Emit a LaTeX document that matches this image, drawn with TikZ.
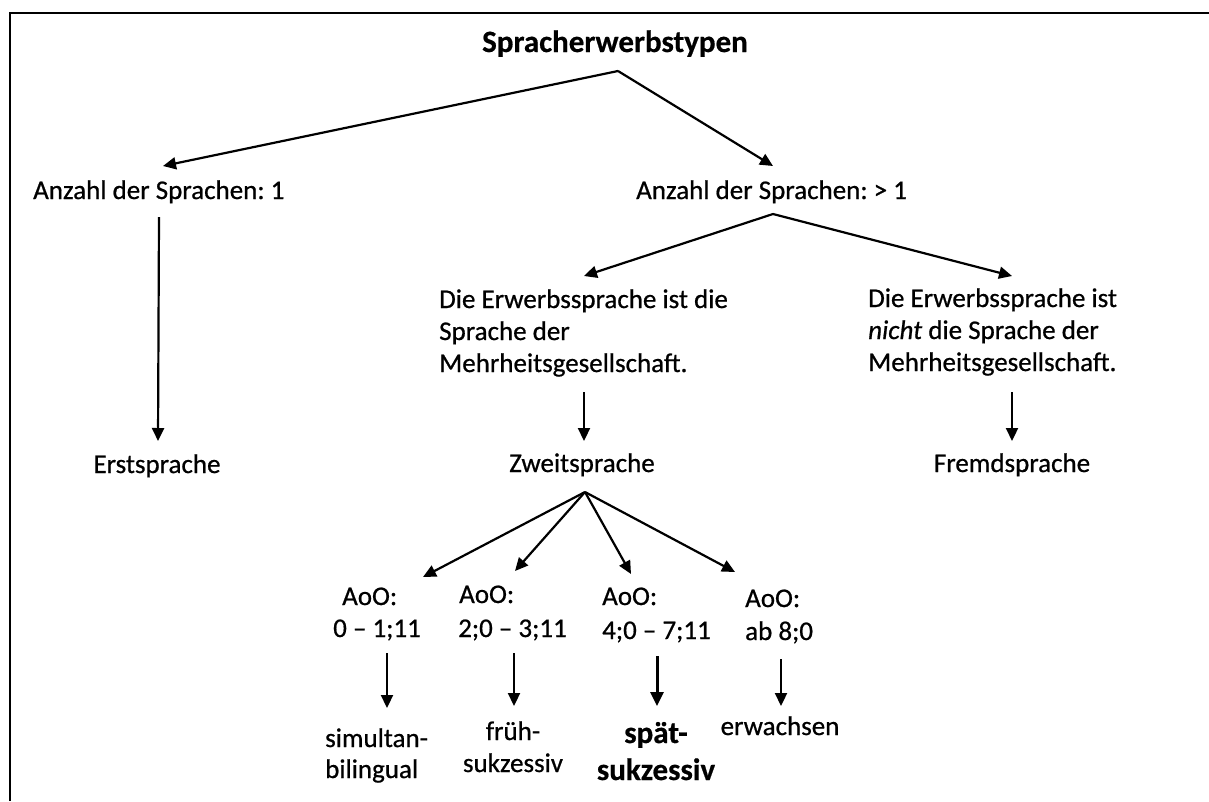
\documentclass[tikz,border=0pt]{standalone}
\usepackage{fontspec}
\setmainfont{Carlito}[UprightFeatures={FakeBold=0.7},ItalicFeatures={FakeBold=0.7},BoldFeatures={FakeBold=0.5}]
\usetikzlibrary{arrows.meta}
\frenchspacing
\begin{document}
\begin{tikzpicture}[x=1pt,y=-1pt,
  txt/.style={inner sep=0pt,font=\fontsize{27}{32}\selectfont},
  ttl/.style={inner sep=0pt,font=\fontsize{31}{37}\selectfont\bfseries},
  arr/.style={line width=2.2pt,-{Triangle[length=13pt,width=12pt]}},
  boldarr/.style={line width=3pt,-{Triangle[length=14pt,width=13pt]}},
  frameline/.style={line width=2pt}]
\useasboundingbox (0,0) rectangle (1209,801);
\draw[frameline] (10,801) -- (10,13) -- (1209,13);

% text nodes
\node[ttl,anchor=base] (title) at (615,52) {Spracherwerbstypen};
\node[txt,anchor=base west] (anz1) at (33,199) {Anzahl der Sprachen: 1};
\node[txt,anchor=base west] (anz2) at (636,199) {Anzahl der Sprachen: > 1};
\node[txt,anchor=base west] (mid1) at (439,308) {Die Erwerbssprache ist die};
\node[txt,anchor=base west] (mid2) at (439,340) {Sprache der};
\node[txt,anchor=base west] (mid3) at (439,372) {Mehrheitsgesellschaft.};
\node[txt,anchor=base west] (rgt1) at (868,307) {Die Erwerbssprache ist};
\node[txt,anchor=base west] (rgt2) at (868,339) {\textit{nicht} die Sprache der};
\node[txt,anchor=base west] (rgt3) at (868,371) {Mehrheitsgesellschaft.};
\node[txt,anchor=base] (erst) at (157,473) {Erstsprache};
\node[txt,anchor=base] (zweit) at (582,472) {Zweitsprache};
\node[txt,anchor=base] (fremd) at (1012,472) {Fremdsprache};

\node[txt,anchor=base west] (aoo1a) at (342,605) {AoO:};
\node[txt,anchor=base west] (aoo1b) at (333,637) {0 -- 1;11};
\node[txt,anchor=base west] (aoo2a) at (459,603) {AoO:};
\node[txt,anchor=base west] (aoo2b) at (458,637) {2;0 -- 3;11};
\node[txt,anchor=base west] (aoo3a) at (602,605) {AoO:};
\node[txt,anchor=base west] (aoo3b) at (602,639) {4;0 -- 7;11};
\node[txt,anchor=base west] (aoo4a) at (745,607) {AoO:};
\node[txt,anchor=base west] (aoo4b) at (745,640) {ab 8;0};

\node[txt,anchor=base west] (sim1) at (325,747) {simultan-};
\node[txt,anchor=base west] (sim2) at (325,778) {bilingual};
\node[txt,anchor=base] (fr1) at (513,740) {früh-};
\node[txt,anchor=base] (fr2) at (513,772) {sukzessiv};
\node[ttl,anchor=base] (sp1) at (656,743) {spät-};
\node[ttl,anchor=base] (sp2) at (656,780) {sukzessiv};
\node[txt,anchor=base] (erw) at (780,735) {erwachsen};

% connector end points
\coordinate (title-out) at (618,71);
\coordinate (anz1-in) at (163,166);
\coordinate (anz2-in) at (773,166);
\coordinate (anz1-out) at (159,217);
\coordinate (erst-in) at (158,441);
\coordinate (anz2-out) at (773,214);
\coordinate (mid-in) at (584,276);
\coordinate (rgt-in) at (1012,276);
\coordinate (mid-out) at (584,392);
\coordinate (zweit-in) at (584,441);
\coordinate (rgt-out) at (1012,392);
\coordinate (fremd-in) at (1012,441);
\coordinate (zweit-out) at (585,492);
\coordinate (aoo1-in) at (423,577);
\coordinate (aoo2-in) at (515,571);
\coordinate (aoo3-in) at (631,574);
\coordinate (aoo4-in) at (735,572);
\coordinate (aoo1-out) at (387,653);
\coordinate (sim-in) at (387,708);
\coordinate (aoo2-out) at (514,653);
\coordinate (fr-in) at (514,706);
\coordinate (aoo3-out) at (657,656);
\coordinate (sp-in) at (657,706);
\coordinate (aoo4-out) at (781,659);
\coordinate (erw-in) at (781,706);

% connectors
\draw[arr] (title-out) -- (anz1-in);
\draw[arr] (title-out) -- (anz2-in);
\draw[arr] (anz1-out) -- (erst-in);
\draw[arr] (anz2-out) -- (mid-in);
\draw[arr] (anz2-out) -- (rgt-in);
\draw[arr] (mid-out) -- (zweit-in);
\draw[arr] (rgt-out) -- (fremd-in);
\draw[arr] (zweit-out) -- (aoo1-in);
\draw[arr] (zweit-out) -- (aoo2-in);
\draw[arr] (zweit-out) -- (aoo3-in);
\draw[arr] (zweit-out) -- (aoo4-in);
\draw[arr] (aoo1-out) -- (sim-in);
\draw[arr] (aoo2-out) -- (fr-in);
\draw[boldarr] (aoo3-out) -- (sp-in);
\draw[arr] (aoo4-out) -- (erw-in);
\end{tikzpicture}
\end{document}
